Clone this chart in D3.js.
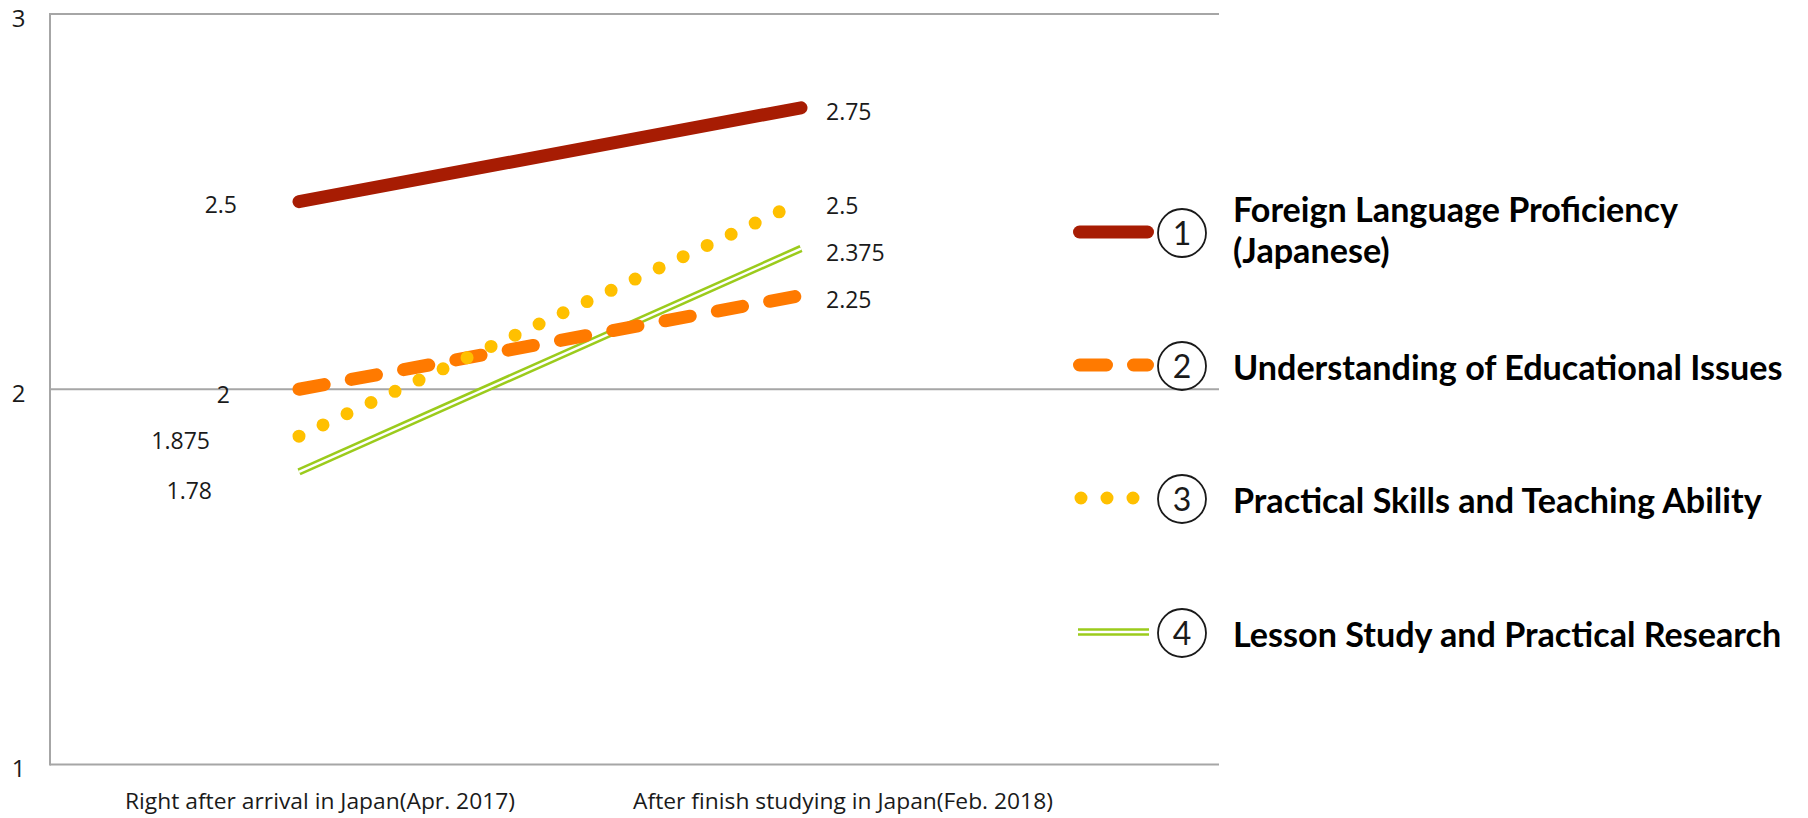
<!DOCTYPE html>
<html>
<head>
<meta charset="utf-8">
<script src="https://cdn.jsdelivr.net/npm/d3@7"></script>
<style>
  html, body { margin: 0; padding: 0; background: #fff; }
  svg { display: block; }
</style>
</head>
<body>
<svg id="chart" width="1808" height="818"></svg>
<script>
// ---------------- DATA ----------------
const categories = ["Right after arrival in Japan(Apr. 2017)", "After finish studying in Japan(Feb. 2018)"];
const yTicks = [1, 2, 3];
const seriesNumbers = ["1", "2", "3", "4"];
const seriesNameLines = [
  ["Foreign Language Proficiency", "(Japanese)"],
  ["Understanding of Educational Issues"],
  ["Practical Skills and Teaching Ability"],
  ["Lesson Study and Practical Research"]
];
const foreignLanguage   = [2.5, 2.75];
const educationalIssues = [2, 2.25];
const practicalSkills   = [1.875, 2.5];
const lessonStudy       = [1.78, 2.375];

// ---------------- STYLE / LAYOUT ----------------
const seriesValues = [foreignLanguage, educationalIssues, practicalSkills, lessonStudy];
const styles = [
  { color: "#A71C03", kind: "solid" },
  { color: "#FF7A00", kind: "dash" },
  { color: "#FFC000", kind: "dot" },
  { color: "#9BCB1C", kind: "double" }
];
// left value-label placement (relative to first point): dx of right edge, dy of text centre
const leftLabelLayout = [
  { dx: -62, dy: 3.5 },
  { dx: -69, dy: 6 },
  { dx: -89, dy: 5 },
  { dx: -87, dy: 19.5 }
];

const svg = d3.select("#chart");
const plotLeft = 50, plotRight = 1219;
const y = d3.scaleLinear().domain([1, 3]).range([764.5, 14]);
const x = d3.scalePoint().domain(categories).range([299, 801]);
const xLabel = d3.scalePoint().domain(categories).range([320, 843]);

const gridColor = "#A6A6A6";
const numFont = "'Open Sans', 'DejaVu Sans', sans-serif";
const textFont = "Lato, 'Open Sans', sans-serif";

// gridlines
svg.append("g").selectAll("line").data(yTicks).join("line")
  .attr("x1", plotLeft).attr("x2", plotRight)
  .attr("y1", d => y(d)).attr("y2", d => y(d))
  .attr("stroke", gridColor).attr("stroke-width", 2);
// left axis line
svg.append("line")
  .attr("x1", plotLeft).attr("x2", plotLeft)
  .attr("y1", y(3) - 1).attr("y2", y(1) + 1)
  .attr("stroke", gridColor).attr("stroke-width", 2);

// y tick labels
svg.append("g").selectAll("text").data(yTicks).join("text")
  .attr("x", 18.5).attr("y", d => y(d) + 12.5)
  .attr("text-anchor", "middle")
  .attr("font-family", numFont).attr("font-size", 24).attr("fill", "#1a1a1a")
  .text(d => d);

// x category labels (condensed to match reference width)
const xl = svg.append("g").selectAll("text").data(categories).join("text")
  .attr("x", d => xLabel(d)).attr("y", 809)
  .attr("text-anchor", "middle")
  .attr("font-family", numFont).attr("font-size", 21).attr("fill", "#1a1a1a")
  .text(d => d);
{
  const n0 = xl.nodes()[0].getComputedTextLength();
  const k = 390 / n0;
  xl.each(function () {
    const w = this.getComputedTextLength();
    d3.select(this).attr("textLength", w * k).attr("lengthAdjust", "spacingAndGlyphs");
  });
}

// series lines
const lineGen = d3.line().x((d, i) => x(categories[i])).y(d => y(d));
function drawStroke(g, pathD, st, pattern) {
  if (st.kind === "solid") {
    g.append("path").attr("d", pathD).attr("fill", "none")
      .attr("stroke", st.color).attr("stroke-width", 13).attr("stroke-linecap", "round");
  } else if (st.kind === "dash") {
    g.append("path").attr("d", pathD).attr("fill", "none")
      .attr("stroke", st.color).attr("stroke-width", 13).attr("stroke-linecap", "round")
      .attr("stroke-dasharray", pattern || "25.6,27.6");
  } else if (st.kind === "dot") {
    g.append("path").attr("d", pathD).attr("fill", "none")
      .attr("stroke", st.color).attr("stroke-width", 13).attr("stroke-linecap", "round")
      .attr("stroke-dasharray", pattern || "0,26.5");
  } else if (st.kind === "double") {
    g.append("path").attr("d", pathD).attr("fill", "none")
      .attr("stroke", st.color).attr("stroke-width", 7.5).attr("stroke-linecap", "butt");
    g.append("path").attr("d", pathD).attr("fill", "none")
      .attr("stroke", "#fff").attr("stroke-width", 2.4).attr("stroke-linecap", "butt");
  }
}
const linesG = svg.append("g");
// draw order: green, orange, yellow, red (so dots sit over dashes)
[3, 1, 2, 0].forEach(si => {
  drawStroke(linesG, lineGen(seriesValues[si]), styles[si]);
});

// value labels
const labelsG = svg.append("g").attr("font-family", numFont).attr("font-size", 23).attr("fill", "#1a1a1a");
seriesValues.forEach((vals, si) => {
  const L = leftLabelLayout[si];
  labelsG.append("text")
    .attr("x", x(categories[0]) + L.dx)
    .attr("y", y(vals[0]) + L.dy + 8)
    .attr("text-anchor", "end")
    .text(String(vals[0]));
  labelsG.append("text")
    .attr("x", x(categories[1]) + 25)
    .attr("y", y(vals[1]) + 4.5 + 8)
    .attr("text-anchor", "start")
    .text(String(vals[1]));
});

// legend
const legendRows = [232, 365, 498, 632];
const legendG = svg.append("g");
const legendSymbolPaths = [
  { x1: 1079.5, x2: 1147.5, pattern: null },
  { x1: 1079.5, x2: 1147.5, pattern: "27,27" },
  { x1: 1081, x2: 1133.5, pattern: "0,26" },
  { x1: 1078, x2: 1149, pattern: null }
];
styles.forEach((st, i) => {
  const yy = legendRows[i];
  const sp = legendSymbolPaths[i];
  drawStroke(legendG, d3.line()([[sp.x1, yy], [sp.x2, yy]]), st, sp.pattern);
  // circled number
  legendG.append("circle").attr("cx", 1182).attr("cy", yy + 1).attr("r", 24)
    .attr("fill", "none").attr("stroke", "#1a1a1a").attr("stroke-width", 1.8);
  legendG.append("text").attr("x", 1182).attr("y", yy + 13)
    .attr("text-anchor", "middle").attr("font-family", textFont)
    .attr("font-size", 32).attr("fill", "#1a1a1a").text(seriesNumbers[i]);
});
const legendTexts = [];
seriesNameLines.forEach((lines, i) => {
  const base = i === 0 ? 222 : legendRows[i] + 15;
  lines.forEach((ln, j) => {
    const t = legendG.append("text")
      .attr("x", 1233).attr("y", base + j * 41)
      .attr("font-family", textFont).attr("font-weight", 700)
      .attr("font-size", 34).attr("fill", "#000")
      .text(ln);
    legendTexts.push(t);
  });
});
{
  const k = 445 / legendTexts[0].node().getComputedTextLength();
  legendTexts.forEach(t => {
    const w = t.node().getComputedTextLength();
    t.attr("textLength", w * k).attr("lengthAdjust", "spacingAndGlyphs");
  });
}
</script>
</body>
</html>
